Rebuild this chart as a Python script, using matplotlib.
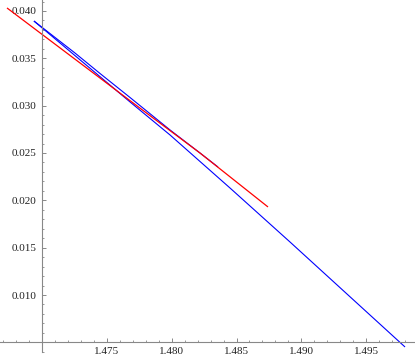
import matplotlib
matplotlib.use("Agg")
import matplotlib.pyplot as plt
from matplotlib.ticker import MultipleLocator, FixedLocator, FuncFormatter

plt.rcParams["font.family"] = ["Liberation Serif", "DejaVu Serif"]

# Data
red_x = [1.46728, 1.47732, 1.48218, 1.48743]
red_y = [0.04032, 0.02997, 0.02500, 0.01930]

blue_long_x = [1.46936, 1.47678, 1.47987, 1.48450, 1.48913, 1.49801]
blue_long_y = [0.03894, 0.03039, 0.02690, 0.02130, 0.01560, 0.00451]

blue_curve_x = [1.46936, 1.47253, 1.47446, 1.47678, 1.47987, 1.48218, 1.48357]
blue_curve_y = [0.03894, 0.03556, 0.03340, 0.03086, 0.02743, 0.02500, 0.02352]

x_ticks = [1.475, 1.480, 1.485, 1.490, 1.495]
y_ticks = [0.010, 0.015, 0.020, 0.025, 0.030, 0.035, 0.040]
origin = (1.470, 0.005)

fig = plt.figure(figsize=(4.15, 3.61), dpi=100)
ax = fig.add_axes([0, 0, 1, 1])
ax.set_xlim(1.46674, 1.49878)
ax.set_ylim(0.00303, 0.04116)

ax.plot(blue_long_x, blue_long_y, color="#0000FF", lw=0.8, solid_capstyle="butt")
ax.plot(blue_curve_x, blue_curve_y, color="#0000FF", lw=0.8, solid_capstyle="butt")
ax.plot(red_x, red_y, color="#FF0000", lw=0.9, solid_capstyle="butt")

for s in ["top", "right"]:
    ax.spines[s].set_visible(False)
ax.spines["left"].set_position(("data", origin[0]))
ax.spines["bottom"].set_position(("data", origin[1]))
ax.spines["left"].set_bounds(0.00398, 0.04116)
axis_col = "#888888"
ax.spines["left"].set_color(axis_col)
ax.spines["bottom"].set_color(axis_col)
ax.spines["left"].set_linewidth(0.8)
ax.spines["bottom"].set_linewidth(0.8)

ax.xaxis.set_major_locator(FixedLocator(x_ticks))
ax.yaxis.set_major_locator(FixedLocator(y_ticks))
ax.xaxis.set_minor_locator(MultipleLocator(0.001))
ax.yaxis.set_minor_locator(MultipleLocator(0.001))
ax.xaxis.set_major_formatter(FuncFormatter(lambda v, p: f"{v:.3f}"))
ax.yaxis.set_major_formatter(FuncFormatter(lambda v, p: f"{v:.3f}"))

ax.tick_params(which="major", direction="in", length=3.2, width=0.7, color=axis_col,
               labelsize=8, labelcolor="#222222")
ax.tick_params(which="minor", direction="in", length=1.7, width=0.6, color=axis_col)
ax.tick_params(axis="x", which="major", pad=3)
ax.tick_params(axis="y", which="major", pad=4)

fig.savefig("out.png", dpi=100)
